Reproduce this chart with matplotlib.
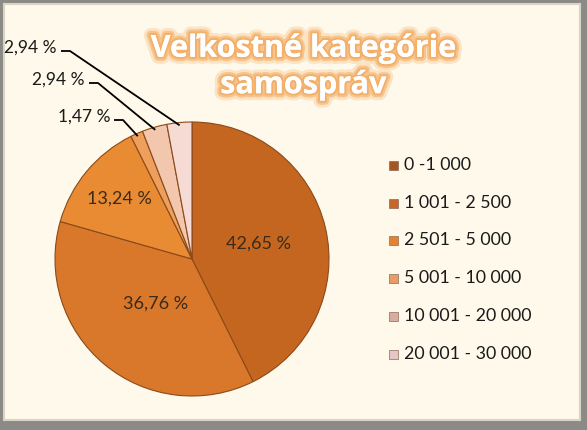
import numpy as np
import matplotlib
matplotlib.use("Agg")
import matplotlib.pyplot as plt
import matplotlib.patches as mpatches
import matplotlib.patheffects as pe

# data
categories = ["0 -1 000", "1 001 - 2 500", "2 501 - 5 000",
              "5 001 - 10 000", "10 001 - 20 000", "20 001 - 30 000"]
shares = [42.65, 36.76, 13.24, 1.47, 2.94, 2.94]
colors = ["#C4661F", "#D9772A", "#E98B32", "#EE9F5C", "#F3C6AE", "#F6DAD4"]
title = "Veľkostné kategórie\nsamospráv"

W, H = 587, 430


def fy(py):
    # pixel row -> data y
    return H - py


def fmt(v):
    return ("%.2f" % v).replace(".", ",") + " %"


fig = plt.figure(figsize=(W / 100, H / 100), dpi=100)
ax = fig.add_axes([0, 0, 1, 1])

# frame
ax.add_patch(mpatches.Rectangle((0, 0), W, H, facecolor="#8C8A86", edgecolor="none"))
ax.add_patch(mpatches.Rectangle((4, fy(420)), W - 11, 420 - 4,
                                facecolor="#FEF9EA", edgecolor="#D9D4C4", lw=1.5))

# pie
cx, cy, r = 192, fy(259), 137
wedges, _ = ax.pie(shares, colors=colors, startangle=90, counterclock=False,
                   center=(cx, cy), radius=r, frame=True,
                   wedgeprops=dict(edgecolor="#8A4A1A", linewidth=0.8))
ax.set_xlim(0, W)
ax.set_ylim(0, H)
ax.set_aspect("equal")
ax.axis("off")

# inside labels
inner_dist = [0.5, 0.42, 0.69]
for w, v, d in zip(wedges[:3], shares[:3], inner_dist):
    a = np.deg2rad((w.theta1 + w.theta2) / 2)
    ax.text(cx + d * r * np.cos(a), cy + d * r * np.sin(a), fmt(v),
            ha="center", va="center", fontsize=13, color="#3A2A1A",
            family="Lato")

# outside labels with leader lines
label_pos = {3: (110, 117), 4: (85, 80), 5: (57, 48)}
for i, (tx, ty) in label_pos.items():
    w = wedges[i]
    a = np.deg2rad((w.theta1 + w.theta2) / 2)
    ex, ey = cx + r * 0.98 * np.cos(a), cy + r * 0.98 * np.sin(a)
    ax.text(tx, fy(ty), fmt(shares[i]), ha="right", va="center",
            fontsize=12.5, color="#1A1A1A", family="Lato")
    ax.plot([tx + 4, tx + 13, ex], [fy(ty + 3), fy(ty + 3), ey],
            color="black", lw=1.3, solid_capstyle="butt")

# legend
leg_y = [165, 203, 240, 278, 316, 354]
leg_colors = ["#A8551F", "#C8662A", "#E4822E", "#EA9D62", "#D9ACA0", "#E6C6C6"]
for lab, c, y in zip(categories, leg_colors, leg_y):
    ax.add_patch(mpatches.Rectangle((389, fy(y) - 4.5), 9, 9, facecolor=c,
                                    edgecolor="#8A6A5A", lw=0.5))
    ax.text(404, fy(y), lab, ha="left", va="center", fontsize=12.8,
            color="#1A1A1A", family="Lato")

# title with glow
t = ax.text(303, fy(67), title, ha="center", va="center", fontsize=22,
            fontweight="bold", color="white", family="Open Sans", linespacing=1.28)
t.set_path_effects([pe.withStroke(linewidth=10, foreground="#FBE3C4"),
                    pe.withStroke(linewidth=6, foreground="#F6C48C"),
                    pe.withStroke(linewidth=3, foreground="#F3B06A"),
                    pe.Normal()])

fig.savefig("out.png", dpi=100)
